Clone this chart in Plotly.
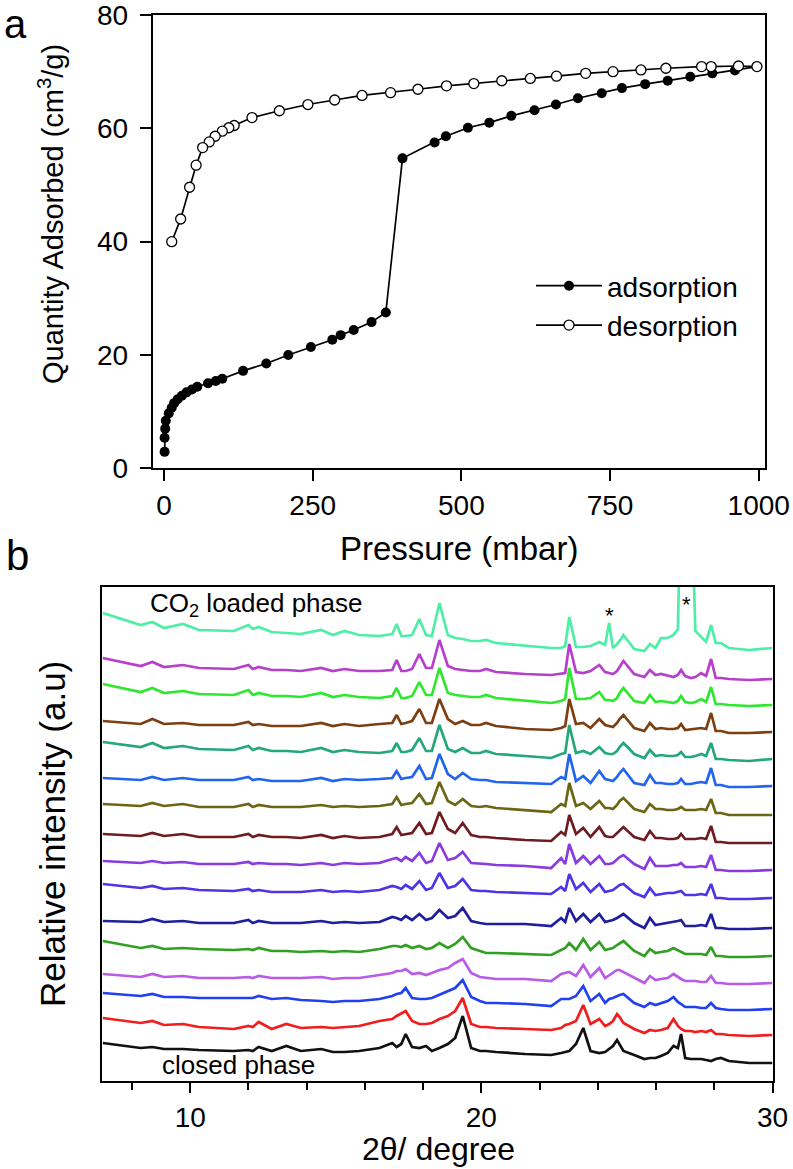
import plotly.graph_objects as go

W, H = 793, 1169
def px(x):
    return x / W
def py(y):
    return 1 - y / H

# ---------------- Panel a: CO2 isotherm ----------------
ads_p = [1, 1, 2, 3, 8, 13, 17, 23, 30, 38, 47, 56, 74, 87, 98, 133, 172, 209, 247, 283,
         297, 319, 349, 373, 401, 455, 474, 511, 547, 584, 623, 659, 696, 736, 770, 809,
         847, 885, 922, 960, 997]
ads_q = [2.9, 5.4, 7.0, 8.4, 9.7, 10.7, 11.5, 12.2, 12.8, 13.4, 13.9, 14.4, 15.0, 15.4, 15.8,
         17.2, 18.5, 20.0, 21.4, 22.7, 23.5, 24.4, 25.8, 27.5, 54.7, 57.5, 58.6, 60.1, 61.0,
         62.2, 63.2, 64.2, 65.3, 66.2, 67.1, 67.8, 68.4, 69.1, 69.7, 70.2, 70.9]
des_p = [997, 966, 920, 904, 844, 802, 755, 709, 660, 616, 568, 521, 475, 427, 381, 333, 287,
         242, 194, 148, 118, 109, 98, 86, 76, 65, 54, 43, 28, 13]
des_q = [70.9, 71.0, 70.9, 70.9, 70.6, 70.3, 70.0, 69.7, 69.2, 68.8, 68.4, 67.9, 67.5, 66.9,
         66.3, 65.8, 65.0, 64.2, 63.1, 61.9, 60.5, 60.1, 59.5, 58.6, 57.6, 56.6, 53.5, 49.6,
         44.0, 40.0]
p_ticks = [0, 250, 500, 750, 1000]
q_ticks = [0, 20, 40, 60, 80]

# ---------------- Panel b: PXRD patterns ----------------
two_theta = [7.0, 8.3, 8.7, 9.1, 9.75, 10.3, 11.5, 12.0, 12.15, 12.35,
             12.8, 13.3, 13.8, 14.5, 14.9, 15.3, 15.8, 16.5, 16.94, 17.09,
             17.25, 17.4, 17.62, 17.87, 18.1, 18.3, 18.56, 18.85, 19.1, 19.36,
             19.65, 19.95, 20.16, 20.5, 21.5, 22.4, 22.74, 22.88, 23.02, 23.25,
             23.5, 23.75, 24.05, 24.25, 24.39, 24.52, 24.66, 24.75, 24.88, 25.25,
             25.6, 25.79, 25.98, 26.17, 26.4, 26.6, 26.75, 26.86, 27.0, 27.2,
             27.35, 27.55, 27.72, 27.89, 28.05, 28.23, 28.5, 29.2, 30.0]

p01 = [0, -12, -9, -15, -11, -17, -18, -12, -16, -14,
       -19, -20, -21, -17, -22, -18, -22, -23, -21, -11,
       -23, -23, -22, -6, -22, -23, 10, -22, -25, -26,
       -28, -28, -27, -30, -33, -35, -35, -33, -4, -34,
       -34, -33, -29, -32, -10, -35, -31, -28, -22, -36,
       -38, -31, -35, -25, -25, -22, -16, 132, 52, 132,
       -18, -24, -29, -12, -30, -30, -35, -37, -35]
p02 = [0, -8, -4, -9, -7, -10, -11, -7, -11, -9,
       -12, -12, -13, -10, -13, -11, -13, -13, -12, -2,
       -13, -13, -11, 4, -10, -10, 18, -8, -11, -12,
       -13, -13, -11, -14, -16, -17, -16, -15, 14, -14,
       -15, -13, -7, -14, -15, -16, -13, -9, -3, -16,
       -19, -12, -17, -16, -18, -19, -17, -12, -18, -20,
       -19, -15, -18, -1, -20, -20, -21, -22, -21]
p03 = [0, -8, -4, -9, -7, -10, -11, -6, -11, -9,
       -12, -12, -13, -9, -13, -11, -13, -14, -12, -4,
       -14, -14, -12, 2, -11, -11, 16, -9, -11, -12,
       -13, -13, -11, -14, -17, -19, -17, -15, 16, -15,
       -15, -14, -8, -16, -16, -17, -14, -9, -4, -17,
       -19, -11, -18, -17, -18, -19, -17, -12, -18, -19,
       -18, -15, -18, -3, -20, -20, -21, -22, -21]
p04 = [0, -3, 2, -3, -2, -4, -4, -1, -4, -3,
       -5, -5, -5, -2, -5, -3, -5, -3, -2, 6,
       -3, -2, 0, 12, -2, -2, 22, 2, -3, 0,
       -4, -4, -2, -5, -8, -9, -7, -5, 22, -3,
       -2, -7, 2, -4, -5, -6, -2, 2, 6, -7,
       -10, -2, -8, -7, -8, -8, -7, -3, -9, -8,
       -8, -7, -8, 8, -10, -10, -12, -12, -11]
p05 = [0, -5, -1, -6, -4, -7, -8, -4, -8, -6,
       -9, -9, -10, -6, -10, -8, -10, -11, -9, -1,
       -10, -10, -8, 4, -9, -9, 17, -7, -10, -6,
       -11, -11, -9, -12, -14, -16, -12, -11, 17, -11,
       -9, -12, -5, -11, -12, -12, -9, -5, -1, -12,
       -16, -8, -14, -13, -14, -14, -13, -10, -15, -15,
       -14, -12, -14, -1, -17, -17, -18, -19, -17]
p06 = [0, -2, 1, -2, 0, -2, -2, 1, -2, -1,
       -3, -3, -3, 0, -3, -1, -2, -1, 0, 7,
       -1, 0, 1, 12, -1, 0, 24, 4, -1, 5,
       -1, -2, -2, -4, -5, -6, 1, -1, 24, -3,
       2, -5, 7, -1, -2, -3, 1, 5, 9, -5,
       -7, 3, -5, -5, -6, -6, -5, -1, -6, -6,
       -5, -4, -5, 10, -7, -7, -9, -9, -8]
p07 = [0, -2, 1, -2, 0, -3, -3, 0, -3, -1,
       -3, -3, -3, -1, -3, -2, -3, -2, 0, 7,
       -1, 0, 1, 10, 0, 1, 22, 3, -1, 5,
       -2, -3, -2, -4, -6, -8, 0, -2, 21, -2,
       1, -5, 3, -4, -4, -5, -1, 3, 6, -5,
       -8, 0, -5, -5, -6, -6, -5, -3, -6, -6,
       -6, -5, -6, 5, -9, -9, -11, -11, -11]
p08 = [0, -2, 1, -2, 0, -3, -3, 0, -3, -1,
       -3, -3, -4, -1, -4, -2, -4, -3, 0, 7,
       -1, 0, 1, 11, 0, 1, 22, 5, 1, 11,
       -1, -3, -3, -4, -6, -7, 2, -1, 19, 0,
       6, -3, 7, -2, -3, -3, 1, 4, 7, -3,
       -6, 3, -4, -4, -5, -5, -4, 0, -5, -5,
       -5, -4, -5, 8, -8, -8, -9, -9, -9]
p09 = [0, -2, 0, -2, -1, -3, -3, -1, -3, -2,
       -3, -3, -4, -2, -4, -2, -3, -2, 2, 3,
       0, 4, 0, 8, -2, 0, 18, 1, 3, 9,
       -2, -3, -3, -4, -5, -7, 3, -3, 17, -2,
       5, -3, 5, -3, -3, -2, 2, 4, 6, -3,
       -8, 3, -5, -5, -5, -4, -4, -2, -6, -6,
       -6, -5, -6, 6, -9, -9, -10, -10, -9]
p10 = [0, -4, -2, -5, -4, -6, -7, -5, -7, -6,
       -8, -8, -8, -6, -8, -7, -8, -6, -2, -3,
       -5, -1, -5, 3, -6, -4, 11, -4, -2, 5,
       -6, -7, -7, -8, -9, -10, -3, -7, 10, -5,
       1, -8, 0, -8, -7, -6, -3, -1, 0, -9,
       -13, -4, -11, -10, -9, -9, -8, -7, -11, -11,
       -11, -10, -11, 0, -14, -14, -15, -15, -14]
p11 = [0, -1, 2, -1, 0, -2, -2, 1, -2, 0,
       -2, -2, -2, 0, -2, -1, -2, -1, 4, 3,
       1, 5, 1, 7, 1, 3, 11, 3, 5, 13,
       0, -2, -3, -3, -3, -5, 3, -1, 13, 0,
       7, -1, 7, -1, 0, 1, 3, 5, 7, -2,
       -7, 3, -4, -3, -2, -1, 0, 1, -5, -5,
       -5, -4, -5, 7, -7, -7, -8, -8, -7]
p12 = [0, -7, -5, -8, -7, -8, -9, -8, -9, -7,
       -10, -10, -11, -10, -11, -10, -11, -8, -5, -5,
       -6, -4, -7, -5, -8, -7, -2, -7, -3, 4,
       -7, -10, -12, -12, -13, -14, -9, -7, -2, -9,
       2, -9, -1, -9, -8, -7, -4, -2, 0, -10,
       -15, -8, -12, -11, -10, -7, -9, -11, -13, -13,
       -13, -13, -14, -6, -15, -15, -16, -16, -15]
p13 = [0, -3, 0, -3, -2, -4, -4, -3, -4, -2,
       -4, -4, -4, -3, -5, -4, -4, -1, 1, 3,
       3, 5, 0, 1, -1, 1, 4, 6, 11, 15,
       1, -3, -4, -5, -5, -7, 0, 1, 2, -2,
       9, -3, 6, -4, -1, 1, 4, 4, 2, -4,
       -9, -2, -6, -5, -4, 0, -3, -5, -7, -7,
       -7, -8, -8, -2, -9, -9, -10, -10, -9]
p14 = [0, -3, -1, -4, -4, -5, -5, -5, -5, -3,
       -6, -5, -7, -8, -9, -8, -8, -6, -3, -1,
       0, 5, -5, -6, -6, -5, -2, 2, 5, 13,
       -4, -8, -10, -10, -11, -13, -6, -6, -6, -3,
       7, -8, -1, -10, -6, -5, -3, -2, -1, -10,
       -14, -10, -12, -10, -8, -4, -9, -11, -14, -14,
       -14, -15, -15, -10, -15, -16, -17, -17, -16]
p15 = [0, -5, -3, -7, -6, -9, -11, -8, -9, -4,
       -11, -6, -10, -9, -10, -9, -8, -3, -1, 2,
       5, 7, -3, -6, -6, -5, -1, 2, 7, 20,
       -6, -9, -9, -10, -11, -12, -10, -7, -6, -3,
       13, -6, -1, -8, -6, -3, 4, 1, -5, -11,
       -15, -12, -13, -12, -10, -1, -8, -11, -13, -13,
       -14, -13, -14, -12, -16, -16, -17, -18, -17]
p16 = [0, -5, -4, -6, -6, -7, -8, -7, -8, -4,
       -8, -3, -8, -6, -9, -9, -8, -5, 0, -4,
       -1, 9, -4, -5, -3, -8, -5, -1, 5, 27,
       -5, -8, -8, -9, -11, -12, -10, -9, -8, -1,
       15, -8, -10, -9, -6, -3, 3, -1, -8, -12,
       -16, -15, -15, -13, -10, -3, -5, 9, -15, -16,
       -16, -16, -17, -18, -16, -15, -18, -20, -20]

patterns = [p01, p02, p03, p04, p05, p06, p07, p08, p09, p10, p11, p12, p13, p14, p15, p16]
offsets = [468, 423, 397, 360, 339, 303, 277, 247, 220, 197, 160, 140, 107, 88, 63, 38]
colors = ['#4DEFA6', '#B63FCB', '#2EE82E', '#7B3F12', '#25A878', '#2364EE', '#6A6614',
          '#6E1C22', '#8A3BE0', '#4B35E6', '#1F1F9E', '#2FA021', '#B95BE6', '#2240EE',
          '#F01E1E', '#111111']
theta_major = [10, 20, 30]
star_pos = [(24.39, 466), (27.03, 477)]

FONT = 'Liberation Sans, Arial, Helvetica, sans-serif'

fig = go.Figure()

# panel a traces
fig.add_trace(go.Scatter(x=ads_p, y=ads_q, mode='lines+markers', name='adsorption',
                         line=dict(color='black', width=1.7),
                         marker=dict(symbol='circle', size=10, color='black'),
                         xaxis='x', yaxis='y'))
fig.add_trace(go.Scatter(x=des_p, y=des_q, mode='lines+markers', name='desorption',
                         line=dict(color='black', width=1.7),
                         marker=dict(symbol='circle', size=10, color='white',
                                     line=dict(color='black', width=1.3)),
                         xaxis='x', yaxis='y'))

# panel b traces
for prof, off, col in zip(patterns, offsets, colors):
    fig.add_trace(go.Scatter(x=two_theta, y=[off + v for v in prof], mode='lines',
                             line=dict(color=col, width=2.7), showlegend=False,
                             hoverinfo='skip', xaxis='x2', yaxis='y2'))

axis_common = dict(showline=True, linecolor='black', linewidth=2, mirror=True,
                   showgrid=False, zeroline=False, automargin=False,
                   tickfont=dict(family=FONT, size=28, color='black'))

layout = dict(
    width=W, height=H, margin=dict(l=0, r=0, t=0, b=0, autoexpand=False),
    paper_bgcolor='white', plot_bgcolor='white',
    showlegend=True,
    legend=dict(x=px(531), y=py(261), xanchor='left', yanchor='top',
                bgcolor='rgba(0,0,0,0)', borderwidth=0, itemwidth=66,
                font=dict(family=FONT, size=28, color='black'),
                tracegroupgap=0),
    xaxis=dict(domain=[px(152.7), px(765)], range=[-19, 1010.6], anchor='y',
               tickmode='array', tickvals=p_ticks, ticks='outside', ticklen=11,
               tickwidth=2, tickcolor='black', **axis_common),
    yaxis=dict(domain=[py(468.3), py(15)], range=[0, 80], anchor='x',
               tickmode='array', tickvals=q_ticks, ticks='outside', ticklen=11,
               tickwidth=2, tickcolor='black', ticklabelstandoff=6,
               ticklabeloverflow='allow', **axis_common),
    xaxis2=dict(domain=[px(101.7), px(772.5)], range=[6.96, 30.0], anchor='y2',
                tickmode='array', tickvals=theta_major, ticks='outside', ticklen=10,
                tickwidth=2, tickcolor='black',
                minor=dict(dtick=2, tick0=0, ticks='outside', ticklen=7, tickwidth=2,
                           tickcolor='black', showgrid=False),
                **axis_common),
    yaxis2=dict(domain=[py(1081), py(587)], range=[0, 494], anchor='x2',
                ticks='', showticklabels=False, **axis_common),
)
fig.update_layout(**layout)

ann = []
def text_px(t, x, y, size, xanchor='center', yanchor='middle', angle=0):
    ann.append(dict(text=t, x=px(x), y=py(y), xref='paper', yref='paper',
                    xanchor=xanchor, yanchor=yanchor, showarrow=False, textangle=angle,
                    font=dict(family=FONT, size=size, color='black')))

text_px('a', 2, 0, 40, xanchor='left', yanchor='top')
text_px('b', 4, 555, 42, xanchor='left')
text_px('Quantity Adsorbed (cm<sup>3</sup>/g)', 51, 214, 29, angle=-90)
text_px('Pressure (mbar)', 459, 548, 33)
text_px('Relative intensity (a.u)', 52, 834, 35, angle=-90)
text_px('2θ/ degree', 438, 1149, 32)
text_px('CO<sub>2</sub> loaded phase', 148, 604, 26, xanchor='left')
text_px('closed phase', 160, 1065, 26, xanchor='left')
for sx, sy in star_pos:
    ann.append(dict(text='*', x=sx, y=sy, xref='x2', yref='y2', xanchor='center',
                    yanchor='middle', showarrow=False,
                    font=dict(family=FONT, size=22, color='black')))
fig.update_layout(annotations=ann)

fig.write_html('out.html', config={'displayModeBar': False},
               post_script="document.body.style.margin='0px';"
                           "document.body.style.overflow='hidden';")
